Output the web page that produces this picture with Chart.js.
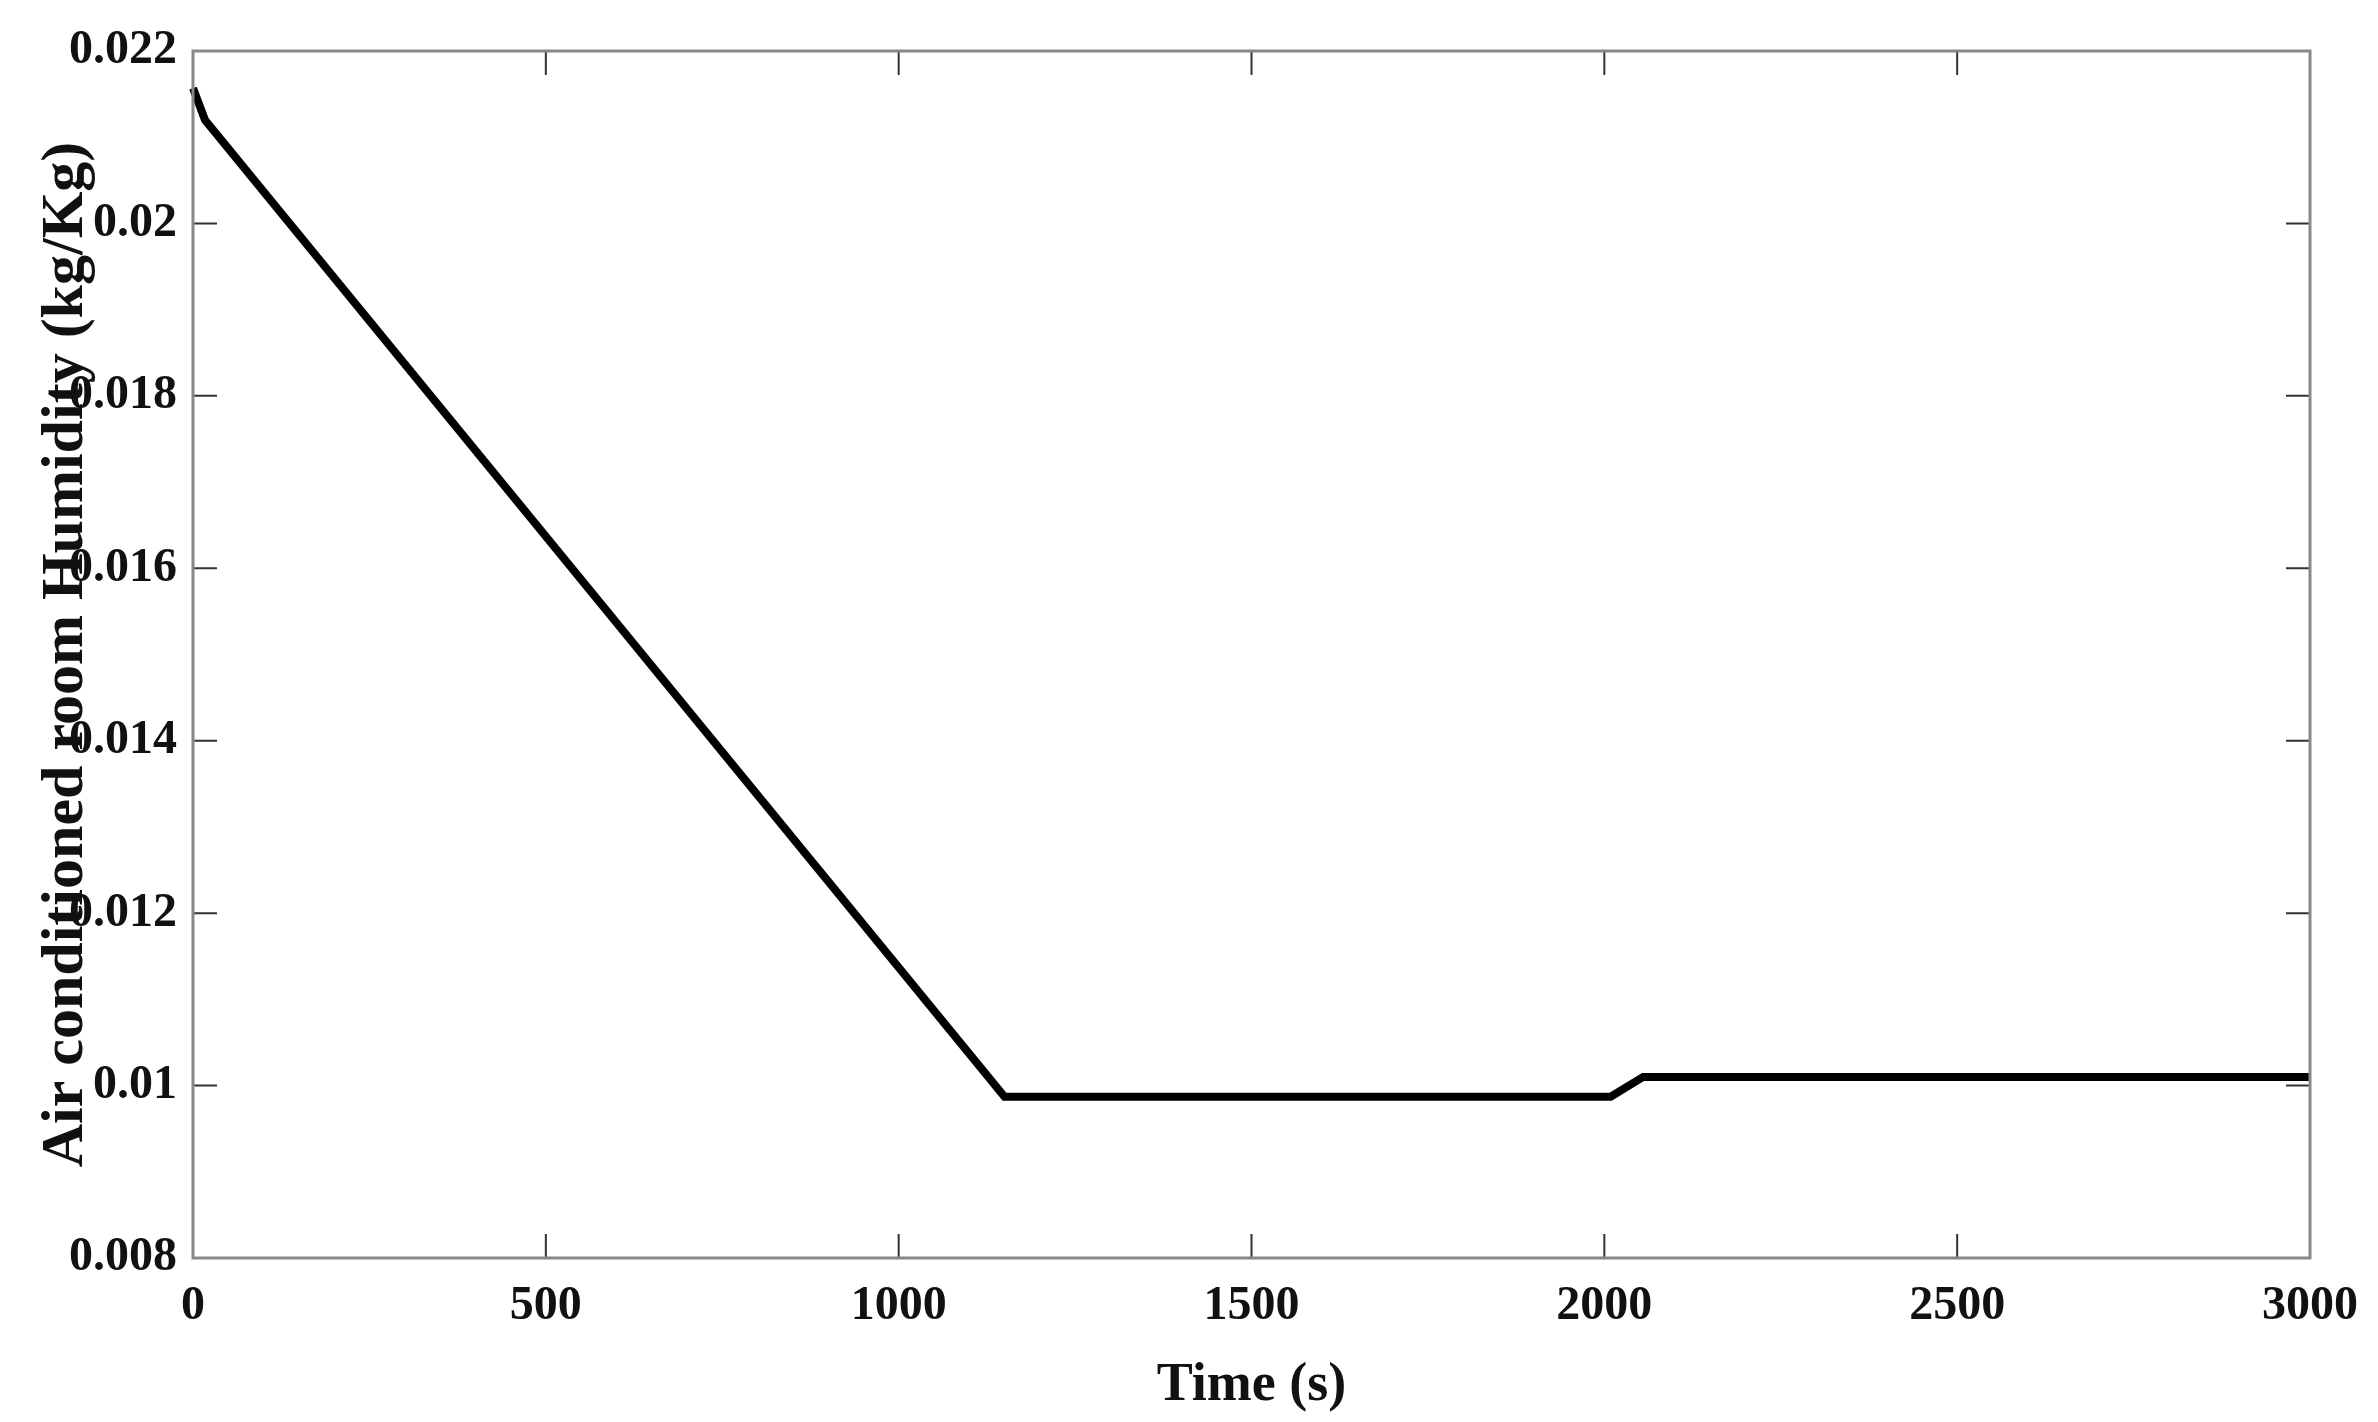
<!DOCTYPE html>
<html><head><meta charset="utf-8">
<script src="https://cdn.jsdelivr.net/npm/chart.js@4"></script>
<style>html,body{margin:0;padding:0;background:#fff}#w{width:2378px;height:1422px}</style>
</head><body><div id="w"><canvas id="c"></canvas></div>
<script>
const timeS = [0, 17, 1150, 2009, 2055, 3000];
const humidity = [0.02157, 0.0212, 0.00987, 0.00987, 0.0101, 0.0101];
const xTicks = [0, 500, 1000, 1500, 2000, 2500, 3000];
const yTicks = [0.008, 0.01, 0.012, 0.014, 0.016, 0.018, 0.02, 0.022];
const yLabels = ['0.008','0.01','0.012','0.014','0.016','0.018','0.02','0.022'];

const F = "'Liberation Serif','Times New Roman',serif";
const boxPlugin = {
  id:'box',
  afterDraw(ch){
    const {ctx, chartArea:a, scales:{x,y}} = ch;
    ctx.save();
    ctx.strokeStyle='#333'; ctx.lineWidth=2;
    xTicks.forEach(v=>{const p=x.getPixelForValue(v);
      ctx.beginPath();ctx.moveTo(p,a.bottom);ctx.lineTo(p,a.bottom-24);ctx.moveTo(p,a.top);ctx.lineTo(p,a.top+24);ctx.stroke();});
    yTicks.forEach(v=>{const p=y.getPixelForValue(v);
      ctx.beginPath();ctx.moveTo(a.left,p);ctx.lineTo(a.left+24,p);ctx.moveTo(a.right,p);ctx.lineTo(a.right-24,p);ctx.stroke();});
    ctx.strokeStyle='#888'; ctx.lineWidth=3;
    ctx.strokeRect(a.left,a.top,a.right-a.left,a.bottom-a.top);
    ctx.restore();
  }
};
new Chart(document.getElementById('c'),{
  type:'line',
  data:{datasets:[{data:timeS.map((t,i)=>({x:t,y:humidity[i]})),borderColor:'#000',borderWidth:8,pointRadius:0,tension:0,clip:false}]},
  options:{responsive:true,maintainAspectRatio:false,animation:false,
    layout:{padding:{top:51,right:65,left:0,bottom:0}},
    plugins:{legend:{display:false},tooltip:{enabled:false}},
    scales:{
      x:{type:'linear',min:0,max:3000,
        afterBuildTicks(s){s.ticks=xTicks.map(v=>({value:v}));},
        afterFit(s){s.height=164;},
        grid:{drawOnChartArea:false,drawTicks:false},border:{display:false},
        ticks:{color:'#111',font:{family:F,size:48,weight:'bold'},padding:20,maxRotation:0,callback:v=>String(v)},
        title:{display:true,text:'Time (s)',color:'#111',font:{family:F,size:54,weight:'bold'},padding:{top:0}}},
      y:{type:'linear',min:0.008,max:0.022,
        afterBuildTicks(s){s.ticks=yTicks.map(v=>({value:v}));},
        afterFit(s){s.width=193;},
        grid:{drawOnChartArea:false,drawTicks:false},border:{display:false},
        ticks:{color:'#111',font:{family:F,size:48,weight:'bold'},padding:16,callback:(v)=>yLabels[yTicks.findIndex(t=>Math.abs(t-v)<1e-9)]},
        title:{display:true,text:'Air conditioned room Humidity (kg/Kg)',color:'#111',font:{family:F,size:60,weight:'bold'},padding:{top:30,bottom:0}}}
    }},
  plugins:[boxPlugin]
});
</script></body></html>
